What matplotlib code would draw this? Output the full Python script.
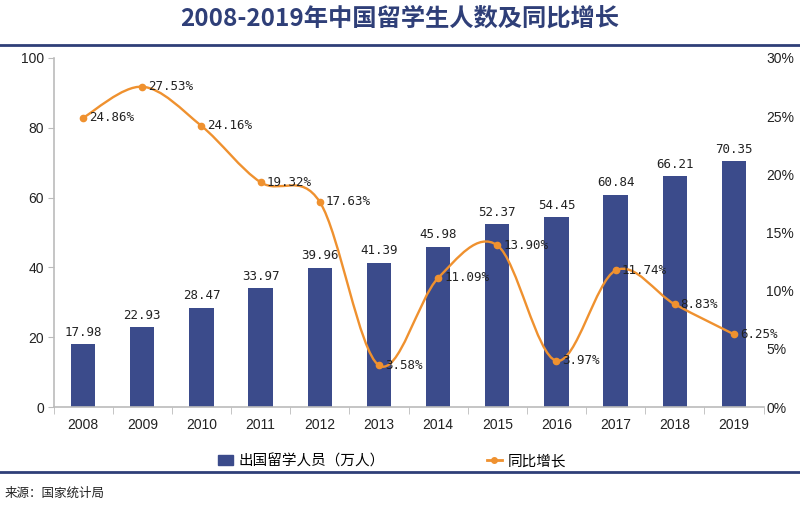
import numpy as np
import matplotlib
matplotlib.use("Agg")
import matplotlib.pyplot as plt
from matplotlib.path import Path
from matplotlib.patches import PathPatch
from matplotlib.lines import Line2D
from matplotlib.patches import Patch

plt.rcParams['font.family'] = ['Noto Sans CJK SC', 'DejaVu Sans']

years = ['2008', '2009', '2010', '2011', '2012', '2013',
         '2014', '2015', '2016', '2017', '2018', '2019']
students = [17.98, 22.93, 28.47, 33.97, 39.96, 41.39,
            45.98, 52.37, 54.45, 60.84, 66.21, 70.35]
growth = [24.86, 27.53, 24.16, 19.32, 17.63, 3.58,
          11.09, 13.90, 3.97, 11.74, 8.83, 6.25]

bar_color = '#3b4b8b'
line_color = '#ef912f'
title_color = '#2f3f78'
num_font = ['DejaVu Sans Mono']
tick_font = ['Liberation Sans Narrow', 'Liberation Sans', 'DejaVu Sans']

fig = plt.figure(figsize=(8, 5.11), dpi=100)
ax = fig.add_axes([0.0669, 0.2035, 0.8875, 0.683])
ax2 = ax.twinx()

x = np.arange(len(years))
bars = ax.bar(x, students, width=0.41, color=bar_color, zorder=2)
for xi, v in zip(x, students):
    ax.text(xi, v + 1.5, f'{v:.2f}', ha='center', va='bottom',
            fontsize=9, family=num_font, color='#222222')

ax.set_xlim(-0.5, len(years) - 0.5)
ax.set_ylim(0, 100)
ax.set_yticks(range(0, 101, 20))
ax.set_xticks(x)
ax.set_xticklabels(years)
ax.set_xticks(np.arange(-0.5, len(years)), minor=True)
ax.tick_params(axis='x', which='major', length=0, pad=8)
ax.tick_params(axis='x', which='minor', length=5, color='#bbbbbb')
ax.tick_params(axis='y', length=4, color='#bbbbbb', pad=3)
for lab in ax.get_xticklabels() + ax.get_yticklabels():
    lab.set_family(tick_font)
    lab.set_fontsize(10)
    lab.set_color('#222222')
for s in ['top', 'right']:
    ax.spines[s].set_visible(False)
for s in ['left', 'bottom']:
    ax.spines[s].set_color('#bbbbbb')
    ax.spines[s].set_linewidth(1.2)

# smoothed growth line (Catmull-Rom as cubic Bezier)
pts = np.column_stack([x, growth]).astype(float)
verts = [tuple(pts[0])]
codes = [Path.MOVETO]
n = len(pts)
for i in range(n - 1):
    p0 = pts[max(i - 1, 0)]
    p1 = pts[i]
    p2 = pts[i + 1]
    p3 = pts[min(i + 2, n - 1)]
    c1 = p1 + (p2 - p0) / 6
    c2 = p2 - (p3 - p1) / 6
    verts += [tuple(c1), tuple(c2), tuple(p2)]
    codes += [Path.CURVE4] * 3
ax2.add_patch(PathPatch(Path(verts, codes), fill=False,
                        edgecolor=line_color, lw=1.7, zorder=3))
ax2.plot(x, growth, 'o', color=line_color, ms=4.5, zorder=4)
for xi, v in zip(x, growth):
    ax2.text(xi + 0.1, v, f'{v:.2f}%', ha='left', va='center',
             fontsize=9, family=num_font, color='#222222', zorder=5)

ax2.set_ylim(0, 30)
ax2.set_yticks(range(0, 31, 5))
ax2.set_yticklabels([f'{t}%' for t in range(0, 31, 5)])
ax2.tick_params(axis='y', length=0, pad=2)
for lab in ax2.get_yticklabels():
    lab.set_family(tick_font)
    lab.set_fontsize(10)
    lab.set_color('#222222')
for s in ax2.spines.values():
    s.set_visible(False)

# title and rules
fig.text(0.5, 0.963, '2008-2019年中国留学生人数及同比增长', ha='center', va='center',
         fontsize=17.5, fontweight='bold', color=title_color)
fig.add_artist(Line2D([0, 1], [1 - 45 / 511] * 2, color=title_color, lw=2))
fig.add_artist(Line2D([0, 1], [1 - 472 / 511] * 2, color=title_color, lw=2))

handles = [Patch(color=bar_color),
           Line2D([], [], color=line_color, marker='o', ms=4, lw=2)]
fig.legend(handles, ['出国留学人员（万人）', '同比增长'], loc='center',
           bbox_to_anchor=(0.49, 1 - 461 / 511), ncol=2, frameon=False,
           fontsize=10.5, columnspacing=7, handlelength=1.0, handletextpad=0.4)

fig.text(0.006, 1 - 493 / 511, '来源：国家统计局', ha='left', va='center',
         fontsize=9, color='#222222')

fig.savefig('out.png', dpi=100)
